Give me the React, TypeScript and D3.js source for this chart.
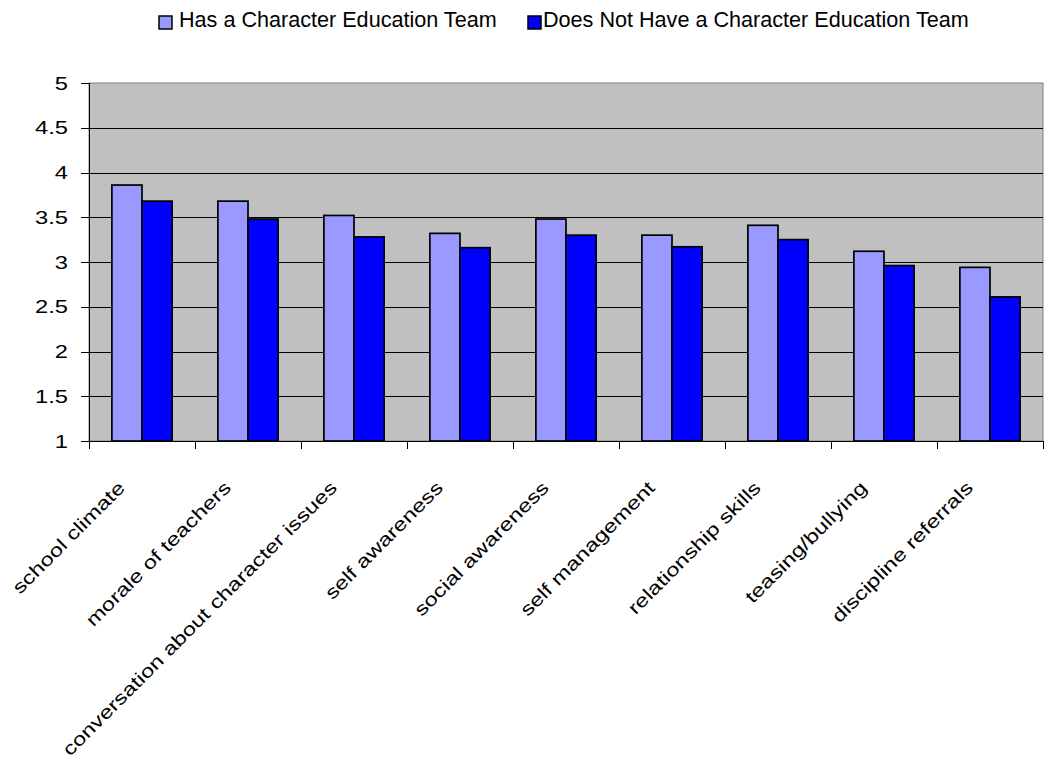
import React from "react";
import * as d3 from "d3";

// Survey categories and mean ratings for the two groups of schools
const categories = [
  "school climate",
  "morale of teachers",
  "conversation about character issues",
  "self awareness",
  "social awareness",
  "self management",
  "relationship skills",
  "teasing/bullying",
  "discipline referrals",
];
const hasTeam = [3.86, 3.68, 3.52, 3.32, 3.48, 3.3, 3.41, 3.12, 2.94];
const noTeam = [3.68, 3.48, 3.28, 3.16, 3.3, 3.17, 3.25, 2.96, 2.61];
const seriesNames = [
  "Has a Character Education Team",
  "Does Not Have a Character Education Team",
];
const yTicks = [1, 1.5, 2, 2.5, 3, 3.5, 4, 4.5, 5];

const W = 1047;
const H = 764;
const plot = { left: 89, right: 1043, top: 83, bottom: 441 };
const colors = ["#9999FF", "#0000FF"];
const font = "Arial, 'Liberation Sans', sans-serif";

export default function App() {
  const x = d3
    .scaleBand<string>()
    .domain(categories)
    .range([plot.left, plot.right])
    .paddingInner(0)
    .paddingOuter(0);
  const y = d3.scaleLinear().domain([1, 5]).range([plot.bottom, plot.top]);
  const inner = d3
    .scaleBand<number>()
    .domain([0, 1])
    .range([0, x.bandwidth()])
    .paddingInner(0)
    .paddingOuter(0.76);
  const series = [hasTeam, noTeam];
  const boundaries = d3.range(categories.length + 1).map((i) => plot.left + i * x.bandwidth());

  const legendItems = [
    { sq: 159, tx: 179 },
    { sq: 528, tx: 543 },
  ];

  return (
    <svg
      width={W}
      height={H}
      style={{ position: "absolute", left: 0, top: 0, background: "#fff" }}
      fontFamily={font}
    >
      {/* plot background */}
      <rect
        x={plot.left}
        y={plot.top}
        width={plot.right - plot.left}
        height={plot.bottom - plot.top}
        fill="#C0C0C0"
        stroke="#808080"
        strokeWidth={1}
      />
      {/* gridlines */}
      {yTicks
        .filter((t) => t > 1 && t < 5)
        .map((t) => (
          <line
            key={`g${t}`}
            x1={plot.left}
            x2={plot.right}
            y1={Math.round(y(t)) + 0.5}
            y2={Math.round(y(t)) + 0.5}
            stroke="#000"
            strokeWidth={1}
          />
        ))}
      {/* bars */}
      {series.map((vals, s) =>
        vals.map((v, i) => (
          <rect
            key={`b${s}-${i}`}
            x={(x(categories[i]) as number) + (inner(s) as number)}
            y={y(v)}
            width={inner.bandwidth()}
            height={y(1) - y(v)}
            fill={colors[s]}
            stroke="#000"
            strokeWidth={1.7}
          />
        ))
      )}
      {/* axes */}
      <line x1={plot.left + 0.5} x2={plot.left + 0.5} y1={plot.top} y2={plot.bottom} stroke="#000" />
      <line x1={plot.left} x2={plot.right} y1={plot.bottom + 0.5} y2={plot.bottom + 0.5} stroke="#000" />
      {yTicks.map((t) => (
        <g key={`yt${t}`}>
          <line
            x1={plot.left - 8}
            x2={plot.left}
            y1={Math.round(y(t)) + 0.5}
            y2={Math.round(y(t)) + 0.5}
            stroke="#000"
          />
          <text
            transform={`translate(68,${y(t) + 6.5}) scale(1.28,1)`}
            textAnchor="end"
            fontSize={18.5}
            fill="#000"
          >
            {t}
          </text>
        </g>
      ))}
      {boundaries.map((bx, i) => (
        <line
          key={`xt${i}`}
          x1={Math.round(bx) + 0.5}
          x2={Math.round(bx) + 0.5}
          y1={plot.bottom}
          y2={plot.bottom + 8}
          stroke="#000"
        />
      ))}
      {categories.map((c) => {
        const cx = (x(c) as number) + x.bandwidth() / 2 - 16;
        return (
          <text
            key={`xl${c}`}
            transform={`translate(${cx},489) rotate(-45) scale(1.28,1)`}
            textAnchor="end"
            fontSize={18.5}
            fill="#000"
          >
            {c}
          </text>
        );
      })}
      {/* legend */}
      {legendItems.map((li, i) => (
        <g key={`lg${i}`}>
          <rect x={li.sq} y={16} width={13} height={13} fill={colors[i]} stroke="#000" strokeWidth={1.5} />
          <text x={li.tx} y={27} fontSize={21.6} fill="#000">
            {seriesNames[i]}
          </text>
        </g>
      ))}
    </svg>
  );
}
